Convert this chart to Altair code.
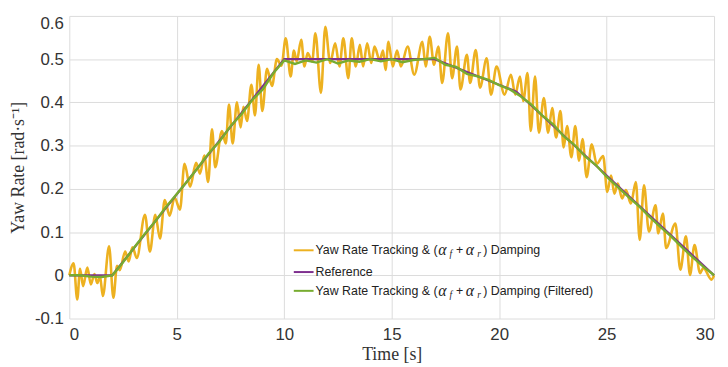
import altair as alt
import pandas as pd

# ---- data ----
ORANGE_T = [0.0, 0.2, 0.37, 0.5, 0.64, 0.84, 1.0, 1.17, 1.3, 1.43, 1.56, 1.85, 2.05,
            2.22, 2.35, 2.6, 2.76, 2.94, 3.14, 3.52, 3.75, 4.0, 4.22, 4.44, 4.67, 4.9,
            5.15, 5.36, 5.62, 5.9, 6.08, 6.28, 6.46, 6.64, 6.79, 7.1, 7.28, 7.43, 7.6,
            7.8, 7.97, 8.1, 8.27, 8.47, 8.64, 8.81, 8.98, 9.2, 9.43, 9.66, 9.87, 10.07,
            10.3, 10.45, 10.58, 10.79, 10.94, 11.09, 11.3, 11.45, 11.71, 11.91, 12.14,
            12.37, 12.57, 12.75, 12.98, 13.14, 13.33, 13.52, 13.67, 13.86, 14.05, 14.2,
            14.44, 14.6, 14.71, 14.85, 15.05, 15.25, 15.43, 15.74, 16.05, 16.43, 16.58,
            16.77, 16.97, 17.17, 17.35, 17.62, 17.81, 18.04, 18.2, 18.5, 18.65, 18.91,
            19.11, 19.42, 19.62, 19.88, 20.25, 20.55, 20.75, 20.97, 21.12, 21.32, 21.47,
            21.67, 21.85, 22.08, 22.28, 22.47, 22.65, 22.85, 23.0, 23.16, 23.36, 23.54,
            23.72, 23.88, 24.07, 24.31, 24.54, 24.84, 25.03, 25.21, 25.36, 25.52, 25.72,
            25.9, 26.13, 26.36, 26.54, 26.74, 26.97, 27.28, 27.4, 27.62, 27.77, 28.2,
            28.43, 28.69, 28.88, 29.09, 29.35, 29.5, 29.88, 30.0]
ORANGE_V = [0.0, 0.028, -0.056, 0.015, -0.025, 0.018, -0.021, 0.003, -0.018, -0.003,
            -0.048, 0.067, -0.052, 0.022, 0.012, 0.055, 0.032, 0.065, 0.04, 0.14, 0.055,
            0.14, 0.085, 0.174, 0.138, 0.18, 0.152, 0.258, 0.205, 0.26, 0.235, 0.277,
            0.216, 0.338, 0.25, 0.334, 0.305, 0.395, 0.305, 0.4, 0.342, 0.39, 0.357,
            0.441, 0.37, 0.487, 0.38, 0.478, 0.438, 0.5, 0.485, 0.548, 0.46, 0.52, 0.495,
            0.545, 0.483, 0.514, 0.495, 0.56, 0.422, 0.575, 0.491, 0.537, 0.483, 0.548,
            0.456, 0.548, 0.483, 0.533, 0.483, 0.537, 0.491, 0.529, 0.498, 0.52, 0.475,
            0.54, 0.483, 0.52, 0.483, 0.529, 0.464, 0.54, 0.483, 0.552, 0.487, 0.529,
            0.445, 0.56, 0.456, 0.529, 0.43, 0.51, 0.445, 0.521, 0.434, 0.502, 0.418,
            0.483, 0.418, 0.464, 0.418, 0.46, 0.403, 0.468, 0.334, 0.46, 0.33, 0.41,
            0.33, 0.387, 0.319, 0.38, 0.296, 0.345, 0.273, 0.345, 0.265, 0.315, 0.227,
            0.303, 0.258, 0.276, 0.193, 0.231, 0.189, 0.212, 0.178, 0.197, 0.166, 0.216,
            0.082, 0.208, 0.101, 0.162, 0.097, 0.143, 0.063, 0.12, 0.013, 0.09, 0.001,
            0.07, 0.005, 0.017, -0.01, 0.0]

REF_T = [0, 2, 10, 17, 20.8, 30]
REF_V = [0.0, 0.0, 0.5, 0.5, 0.425, 0.0]

GREEN_T = [0, 0.5, 1.0, 1.5, 2.0, 2.5, 3.0, 3.5, 4.0, 4.5, 5.0, 5.5, 6.0, 6.5, 7.0,
           7.5, 8.0, 8.5, 9.0, 9.5, 10.0, 10.5, 11.0, 11.5, 12.0, 12.5, 13.0, 13.5,
           14.0, 14.5, 15.0, 15.5, 16.0, 16.5, 17.0, 17.5, 18.0, 18.5, 19.0, 19.5,
           20.0, 20.5, 21.0, 21.5, 22.0, 22.5, 23.0, 23.5, 24.0, 24.5, 25.0, 25.5,
           26.0, 26.5, 27.0, 27.5, 28.0, 28.5, 29.0, 29.5, 30.0]
GREEN_V = [0.0, 0.0, -0.003, -0.004, 0.0, 0.03, 0.063, 0.095, 0.125, 0.158, 0.188,
           0.218, 0.25, 0.283, 0.31, 0.345, 0.372, 0.405, 0.43, 0.468, 0.497, 0.489,
           0.497, 0.492, 0.5, 0.49, 0.497, 0.494, 0.5, 0.495, 0.5, 0.493, 0.498, 0.5,
           0.503, 0.487, 0.482, 0.466, 0.46, 0.452, 0.44, 0.43, 0.414, 0.395, 0.37,
           0.35, 0.322, 0.302, 0.275, 0.255, 0.228, 0.205, 0.182, 0.16, 0.135, 0.112,
           0.09, 0.065, 0.042, 0.02, 0.0]

X_TICKS = [0, 5, 10, 15, 20, 25, 30]
Y_TICKS = [-0.1, 0, 0.1, 0.2, 0.3, 0.4, 0.5, 0.6]

LABEL_MAIN = "Yaw Rate Tracking & ("
LABEL_REF = "Reference"
LABEL_END1 = ") Damping"
LABEL_END3 = ") Damping (Filtered)"

ORANGE = "#EDB120"
PURPLE = "#7E2F8E"
GREEN = "#77AC30"

orange_df = pd.DataFrame({"t": ORANGE_T, "v": ORANGE_V})
ref_df = pd.DataFrame({"t": REF_T, "v": REF_V})
green_df = pd.DataFrame({"t": GREEN_T, "v": GREEN_V})

common_axis = dict(grid=True, gridColor="#dcdcdc", gridWidth=1, domain=False, ticks=False,
                   labelFont="Liberation Sans", labelFontSize=17, labelColor="#333333",
                   titleFont="Liberation Serif", titleFontSize=18, titleFontWeight="normal",
                   titleColor="#333333")

X = alt.X("t:Q", scale=alt.Scale(domain=[0, 30], nice=False),
          axis=alt.Axis(values=X_TICKS, format="d", labelPadding=8, titlePadding=3,
                        title="Time [s]", **common_axis))
Y = alt.Y("v:Q", scale=alt.Scale(domain=[-0.1, 0.6], nice=False),
          axis=alt.Axis(values=Y_TICKS, labelPadding=6, titlePadding=7,
                        title="Yaw Rate [rad·s⁻¹]",
                        labelBaseline={"condition": {"test": "datum.value > 0.55", "value": "top"},
                                       "value": "middle"},
                        labelExpr="datum.value < 0 ? '-' + format(-datum.value, '.1f') : (datum.value == 0 ? '0' : format(datum.value, '.1f'))",
                        **common_axis))

orange = alt.Chart(orange_df).mark_line(color=ORANGE, strokeWidth=2.6,
                                        interpolate="monotone").encode(x=X, y=Y)
ref = alt.Chart(ref_df).mark_line(color=PURPLE, strokeWidth=2.2).encode(x=X, y=Y)
green = alt.Chart(green_df).mark_line(color=GREEN, strokeWidth=2.4).encode(x=X, y=Y)

one = pd.DataFrame({"a": [0]})


def legend_rule(y, color):
    return alt.Chart(one).mark_rule(color=color, strokeWidth=2).encode(
        x=alt.value(227), x2=alt.value(247), y=alt.value(y))


def legend_text(x, y, txt, size=12.5, font="Liberation Sans", style="normal"):
    return alt.Chart(one).mark_text(text=txt, align="left", baseline="middle",
                                    font=font, fontSize=size, fontStyle=style,
                                    color="#222222").encode(x=alt.value(x), y=alt.value(y))


def alpha_label(y, end_txt):
    return [
        legend_text(249, y, LABEL_MAIN),
        legend_text(373, y, "α", size=16, font="Liberation Serif", style="italic"),
        legend_text(384.5, y + 4, "f", size=9.5, font="Liberation Serif", style="italic"),
        legend_text(391, y, "+"),
        legend_text(401, y, "α", size=16, font="Liberation Serif", style="italic"),
        legend_text(412.5, y + 4, "r", size=9.5, font="Liberation Serif", style="italic"),
        legend_text(418.5, y, end_txt),
    ]


legend_layers = [legend_rule(237, ORANGE), legend_rule(259, PURPLE), legend_rule(278, GREEN)]
legend_layers += alpha_label(237, LABEL_END1)
legend_layers += [legend_text(249, 259, LABEL_REF)]
legend_layers += alpha_label(278, LABEL_END3)

chart = alt.layer(orange, ref, green, *legend_layers).properties(
    width=652, height=306,
    autosize=alt.AutoSizeParams(type="none"),
    padding={"left": 62, "top": 6, "right": 6, "bottom": 47},
).configure_view(strokeWidth=0)

chart.save("out.html", embed_options={"renderer": "svg", "actions": False})
